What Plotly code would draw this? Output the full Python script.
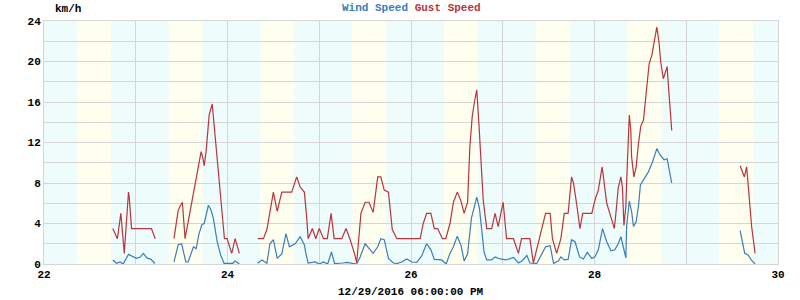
import pandas as pd
import plotly.graph_objects as go

# ---------------- data (hours since 2016-12-22 00:00, km/h) ----------------
gust_hours = [18.0, 19.2, 20.1, 21.0, 22.1, 22.3, 22.9, 28.1, 29.1, 31,
              34.0, 34.5, 35.1, 35.6, 36.2, 36.9, 39.9, 40.6, 41.1, 41.6, 41.9, 42.4, 43.2, 43.7, 44.0,
              47.2, 47.9, 49.1, 50.0, 51.1, 53,
              55.9, 57.4, 58.3, 60.0, 61.0, 62.2, 64.8, 66.1, 67.0, 68.1, 68.7, 69.1, 70.2, 71.1, 72.0,
              73.1, 74.1, 75.1, 75.9, 77.9, 79.0, 80.0, 81.2, 81.8, 82.9, 84.0, 85.0, 86.1, 87.3, 88.1,
              89.0, 90.1, 91.1, 92.3, 98.4, 99.2, 100.1, 101.2, 102.1, 103.0, 104.2, 105.1, 106.2, 107.1,
              108.1, 109.0, 109.9, 110.8, 111.4, 112.0, 112.6, 113.2, 113.8, 114.3, 114.9, 115.8, 117.1,
              118.0, 118.8, 120.1, 121.0, 122.8, 124.1, 124.9, 127.1, 128.0, 131.2, 132.4, 133.0, 134.1,
              135.2, 136.1, 137.1, 138.0, 138.5, 139.3, 140.2, 140.9, 143.3, 144.1, 145.0, 146.0, 146.5,
              147.2, 148.0, 149.2, 149.8, 150.2, 150.9, 151.3, 151.7, 152.2, 152.4, 152.8, 153.1, 153.5,
              153.7, 154.3, 154.9, 155.5, 156.1, 156.8, 157.2, 157.8, 158.3, 159.0, 159.6, 160.3, 160.9,
              161.3, 162.0, 162.4, 163.0, 163.3, 163.7, 164.2, 170,
              182.1, 183.2, 183.8, 184.7, 185.1, 186.0]
gust_kmh = [3.5, 2.5, 5.0, 1.05, 7.1, 6.6, 3.5, 3.5, 2.5, None,
            2.5, 4.0, 5.3, 5.7, 6.1, 2.5, 8.6, 9.9, 11.1, 10.4, 9.7, 11.1, 14.7, 15.4, 15.8,
            2.5, 2.5, 1.05, 2.5, 1.05, None,
            2.5, 2.5, 3.4, 7.1, 5.2, 7.1, 7.1, 8.6, 7.6, 7.1, 4.7, 2.5, 3.5, 2.5, 3.5,
            2.5, 2.5, 5.0, 2.5, 2.5, 3.5, 2.5, 1.05, 0.13, 5.0, 6.1, 6.1, 5.1, 8.6, 8.6,
            7.3, 7.1, 3.4, 2.5, 2.5, 4.0, 5.0, 5.0, 3.5, 3.5, 2.5, 2.5, 4.0, 6.1,
            7.1, 6.3, 5.0, 6.1, 11.6, 14.5, 16.0, 17.2, 13.6, 9.9, 6.3, 3.5, 3.5,
            5.0, 3.7, 6.1, 2.5, 2.5, 1.05, 2.5, 2.5, 0.1, 5.0, 5.0, 2.5, 1.05,
            2.5, 5.0, 5.0, 8.6, 8.0, 6.0, 3.5, 5.0, 5.0, 6.3, 7.3, 9.6, 8.0,
            6.0, 5.0, 3.5, 5.8, 7.5, 8.6, 7.6, 3.8, 5.7, 8.0, 13.2, 14.7, 13.2,
            10.6, 8.6, 9.6, 11.9, 13.6, 14.2, 15.9, 17.8, 19.8, 20.6, 22.0, 23.4, 21.8,
            20.0, 18.3, 18.8, 19.5, 17.8, 15.5, 13.2, None,
            9.7, 8.6, 9.6, 6.0, 3.7, 1.05]

wind_hours = [18.0, 19.0, 19.9, 20.7, 22.1, 23.4, 24.2, 25.1, 26.0, 26.9, 28.0, 29.0, 31,
              34.0, 35.1, 36.0, 37.1, 37.7, 38.4, 39.1, 39.8, 40.5, 41.3, 41.9, 43.0, 43.7, 44.3, 44.7,
              45.3, 46.2, 47.1, 49.4, 50.0, 51.1, 53,
              55.9, 57.0, 58.3, 59.1, 60.0, 61.0, 62.2, 63.3, 64.2, 65.7, 67.0, 68.1, 68.5, 69.1, 70.9,
              72.0, 73.1, 74.2, 75.2, 76.0, 78.2, 79.2, 81.8, 82.7, 84.0, 85.3, 86.1, 87.3, 88.1, 89.0,
              90.1, 91.4, 92.3, 93.6, 94.9, 96.2, 97.5, 98.8, 100.1, 101.2, 102.1, 104.0, 105.2, 106.2,
              107.1, 108.1, 109.1, 109.9, 110.8, 111.8, 113.2, 113.9, 114.5, 115.1, 115.8, 117.1, 118.0,
              119.3, 120.9, 122.8, 124.1, 125.2, 126.3, 127.1, 128.9, 130.2, 131.2, 132.4, 133.3, 134.5,
              135.2, 136.1, 137.1, 138.0, 138.9, 140.1, 141.1, 142.1, 143.3, 144.1, 145.0, 146.1, 147.2,
              148.3, 149.3, 150.2, 150.9, 151.4, 152.2, 152.4, 153.1, 153.7, 154.2, 154.9, 155.5, 156.0,
              156.8, 158.1, 159.2, 160.3, 161.1, 162.2, 163.0, 163.6, 164.2, 170,
              182.1, 182.7, 183.3, 184.2, 185.0, 186.0]
wind_kmh = [0.4, 0.07, 0.2, 0.0, 0.95, 0.66, 0.56, 0.66, 1.05, 0.6, 0.46, 0.05, None,
            0.2, 1.9, 2.0, 0.2, 0.2, 0.9, 1.7, 1.5, 2.9, 3.9, 4.0, 5.8, 5.3, 4.5, 3.5,
            2.2, 0.9, 0.07, 0.07, 0.3, 0.0, None,
            0.07, 0.4, 0.07, 2.0, 2.4, 0.56, 1.0, 3.0, 1.7, 2.0, 2.7, 1.9, 1.05, 0.1, 0.2,
            0.0, 0.2, 0.0, 1.2, 0.05, 0.1, 0.15, 0.0, 0.7, 2.0, 1.4, 1.05, 1.7, 2.5, 2.4,
            0.56, 0.1, 0.05, 0.2, 0.5, 0.2, 0.15, 0.8, 2.0, 1.4, 0.45, 0.4, 0.0, 1.05,
            1.7, 2.75, 1.8, 0.3, 1.0, 4.5, 6.6, 5.5, 3.0, 1.2, 0.4, 0.4, 0.7,
            0.5, 0.4, 0.65, 0.1, 0.35, 0.85, 0.1, 0.05, 0.9, 1.7, 1.8, 0.05, 0.3,
            0.7, 0.4, 0.45, 2.4, 2.2, 0.7, 0.5, 1.15, 0.55, 0.7, 1.4, 3.5, 2.2,
            1.3, 1.4, 2.0, 2.7, 1.9, 0.6, 3.7, 6.2, 5.2, 3.7, 4.2, 5.7, 7.8,
            8.3, 9.1, 10.1, 11.4, 10.8, 10.3, 10.4, 9.0, 8.0, None,
            3.3, 2.2, 1.05, 0.9, 0.4, 0.0]

days = ["2016-12-22", "2016-12-23", "2016-12-24", "2016-12-25",
        "2016-12-26", "2016-12-27", "2016-12-28", "2016-12-29"]
sunrise = "08:40"
sunset = "17:30"
y_label = "km/h"
bottom_label = "12/29/2016 06:00:00 PM"

WIND_C = "#3a7dbd"
GUST_C = "#b8353c"
FONT = "Liberation Mono"

base = pd.Timestamp("2016-12-22")
def to_t(hours):
    return [base + pd.Timedelta(hours=h) for h in hours]

fig = go.Figure()
fig.add_trace(go.Scatter(x=to_t(wind_hours), y=wind_kmh, mode="lines", name="Wind Speed",
                         line=dict(color=WIND_C, width=1.2), connectgaps=False))
fig.add_trace(go.Scatter(x=to_t(gust_hours), y=gust_kmh, mode="lines", name="Gust Speed",
                         line=dict(color=GUST_C, width=1.2), connectgaps=False))

# day/night background bands
shapes = []
for d in days:
    d0 = pd.Timestamp(d)
    sr = pd.Timestamp(f"{d} {sunrise}")
    ss = pd.Timestamp(f"{d} {sunset}")
    d1 = d0 + pd.Timedelta(days=1)
    for a, b, c in [(d0, sr, "#eefcfc"), (sr, ss, "#fffff0"), (ss, d1, "#eefcfc")]:
        shapes.append(dict(type="rect", xref="x", yref="paper", x0=a, x1=b, y0=0, y1=1,
                           fillcolor=c, line=dict(width=0), layer="below"))
fig.update_layout(shapes=shapes)

fig.update_layout(
    width=800, height=300,
    margin=dict(l=44, r=22, t=21, b=36),
    paper_bgcolor="white", plot_bgcolor="white",
    showlegend=False,
    font=dict(family=FONT, size=10, color="black"),
    xaxis=dict(
        type="date",
        range=[pd.Timestamp("2016-12-22"), pd.Timestamp("2016-12-30")],
        tick0="2016-12-22", dtick=2 * 86400000, tickformat="%-d",
        showgrid=True, gridcolor="#d6d6d6", gridwidth=1,
        minor=dict(dtick=86400000, showgrid=True, gridcolor="#d6d6d6", gridwidth=1),
        showline=True, linecolor="#d6d6d6", mirror=True,
        zeroline=False, ticks="", ticklen=0,
        tickfont=dict(family=FONT, size=11, weight="bold", color="black"),
    ),
    yaxis=dict(
        range=[0, 24], tick0=0, dtick=4,
        showgrid=True, gridcolor="#d6d6d6", gridwidth=1,
        minor=dict(dtick=2, showgrid=True, gridcolor="#d6d6d6", gridwidth=1),
        showline=True, linecolor="#d6d6d6", mirror=True,
        zeroline=False, ticks="", ticklen=0,
        tickfont=dict(family=FONT, size=11, weight="bold", color="black"),
    ),
)

fig.add_annotation(x=0.0125, y=1, xref="paper", yref="paper", xanchor="left", yanchor="top",
                   xshift=0, text="<b>" + y_label + "</b>", showarrow=False,
                   font=dict(family=FONT, size=11, color="black"))
fig.add_annotation(x=0.5, y=1, xref="paper", yref="paper", xanchor="center", yanchor="top",
                   text=f"<b><span style='color:{WIND_C}'>Wind Speed</span> "
                        f"<span style='color:{GUST_C}'>Gust Speed</span></b>",
                   showarrow=False, font=dict(family=FONT, size=11))
fig.add_annotation(x=pd.Timestamp("2016-12-26"), y=0, xref="x", yref="paper",
                   xanchor="center", yanchor="top", yshift=-20,
                   text="<b>" + bottom_label + "</b>", showarrow=False,
                   font=dict(family=FONT, size=11, color="black"))

# place top annotations in paper coordinates of the whole figure
fig.layout.annotations[0].update(yref="paper", y=1, yshift=20)
fig.layout.annotations[1].update(yref="paper", y=1, yshift=21)

fig.write_html("out.html")
